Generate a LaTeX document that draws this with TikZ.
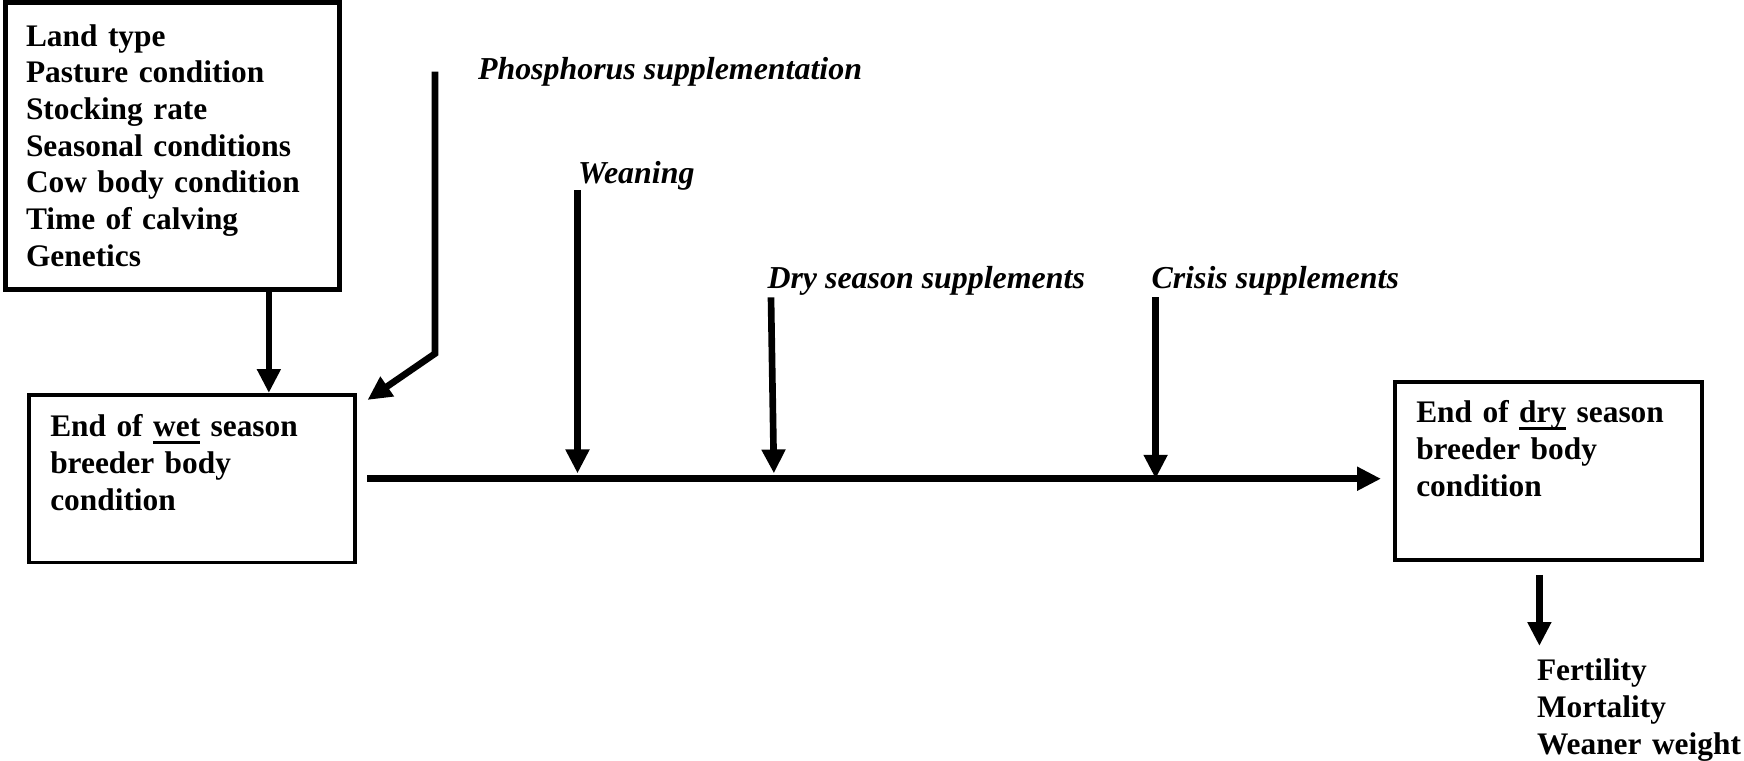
\documentclass[tikz,border=0pt]{standalone}
\usepackage{fontspec}
\setmainfont{Liberation Serif}
\usetikzlibrary{arrows.meta, calc}

\newcommand{\ulword}[1]{\setbox0\hbox{#1}\rlap{\rule[-2.6pt]{\wd0}{1.1pt}}\box0\relax}

\begin{document}
\begin{tikzpicture}[
    x=0.376pt, y=-0.376pt,
    font=\fontsize{12}{13.8}\selectfont,
    box/.style={
      draw, line width=1.5pt, inner ysep=0pt, align=left,
      anchor=base west, font=\fontsize{11.8}{13.8}\selectfont\bfseries
    },
    lbl/.style={font=\fontsize{12}{13.8}\selectfont\bfseries\itshape, inner sep=0pt, anchor=base west},
    arr/.style={-{Triangle[length=9pt,width=8.5pt]}, line width=2.5pt}
  ]
    \useasboundingbox (0,0) rectangle (1744,760);

    % Boxes
    \node[box, line width=1.9pt, inner xsep=7.9pt, text width=110pt, text height=16.4pt, text depth=91.6pt]
      (factors) at (2.5,46) {Land type\\Pasture condition\\Stocking rate\\Seasonal conditions\\Cow body condition\\Time of calving\\Genetics};
    \node[box, inner xsep=8pt, text width=106.4pt, text height=15.7pt, text depth=47.3pt]
      (wet) at (27,436.7) {End of \ulword{wet} season\\breeder body\\condition};
    \node[box, inner xsep=8pt, text width=99.3pt, text height=15.3pt, text depth=51.6pt]
      (dry) at (1393,422.7) {End of \ulword{dry} season\\breeder body\\condition};

    % Interventions
    \node[lbl] (phos) at (477.5,79.3) {Phosphorus supplementation};
    \node[lbl] (wean) at (577.5,183) {Weaning};
    \node[lbl] (drys) at (767,288) {Dry season supplements};
    \node[lbl] (cris) at (1151,288) {Crisis supplements};

    % Outcomes
    \node[box, draw=none, inner sep=0pt, text width=80pt] (outc) at (1535,680.7) {Fertility\\Mortality\\Weaner weight};

    % Arrows
    \draw[arr] ([xshift=36.3pt]factors.south) -- ([xshift=36.3pt]factors.south |- wet.north);
    \draw[arr] ([xshift=-16pt]phos.west) -- ++(0,282) -- ([shift={(11,7)}]wet.north east);
    \draw[arr] ([xshift=4pt]wet.east) -- ($(wet.east -| dry.west)+(-12,0)$);
    \draw[arr, shorten >=2pt] (wean.south west) -- (wean.south west |- wet.east);
    \draw[arr, shorten >=2pt] ($(drys.south west)+(4,2)$) -- ($(drys.south west |- wet.east)+(7,0)$);
    \draw[arr] ($(cris.south west)+(4.6,2)$) -- ($(cris.south west |- wet.east)+(4.6,0)$);
    \draw[arr] ($(outc.north west |- dry.south)+(4.4,13)$) -- ($(outc.north west)+(4.4,-11)$);
  \end{tikzpicture}
\end{document}
